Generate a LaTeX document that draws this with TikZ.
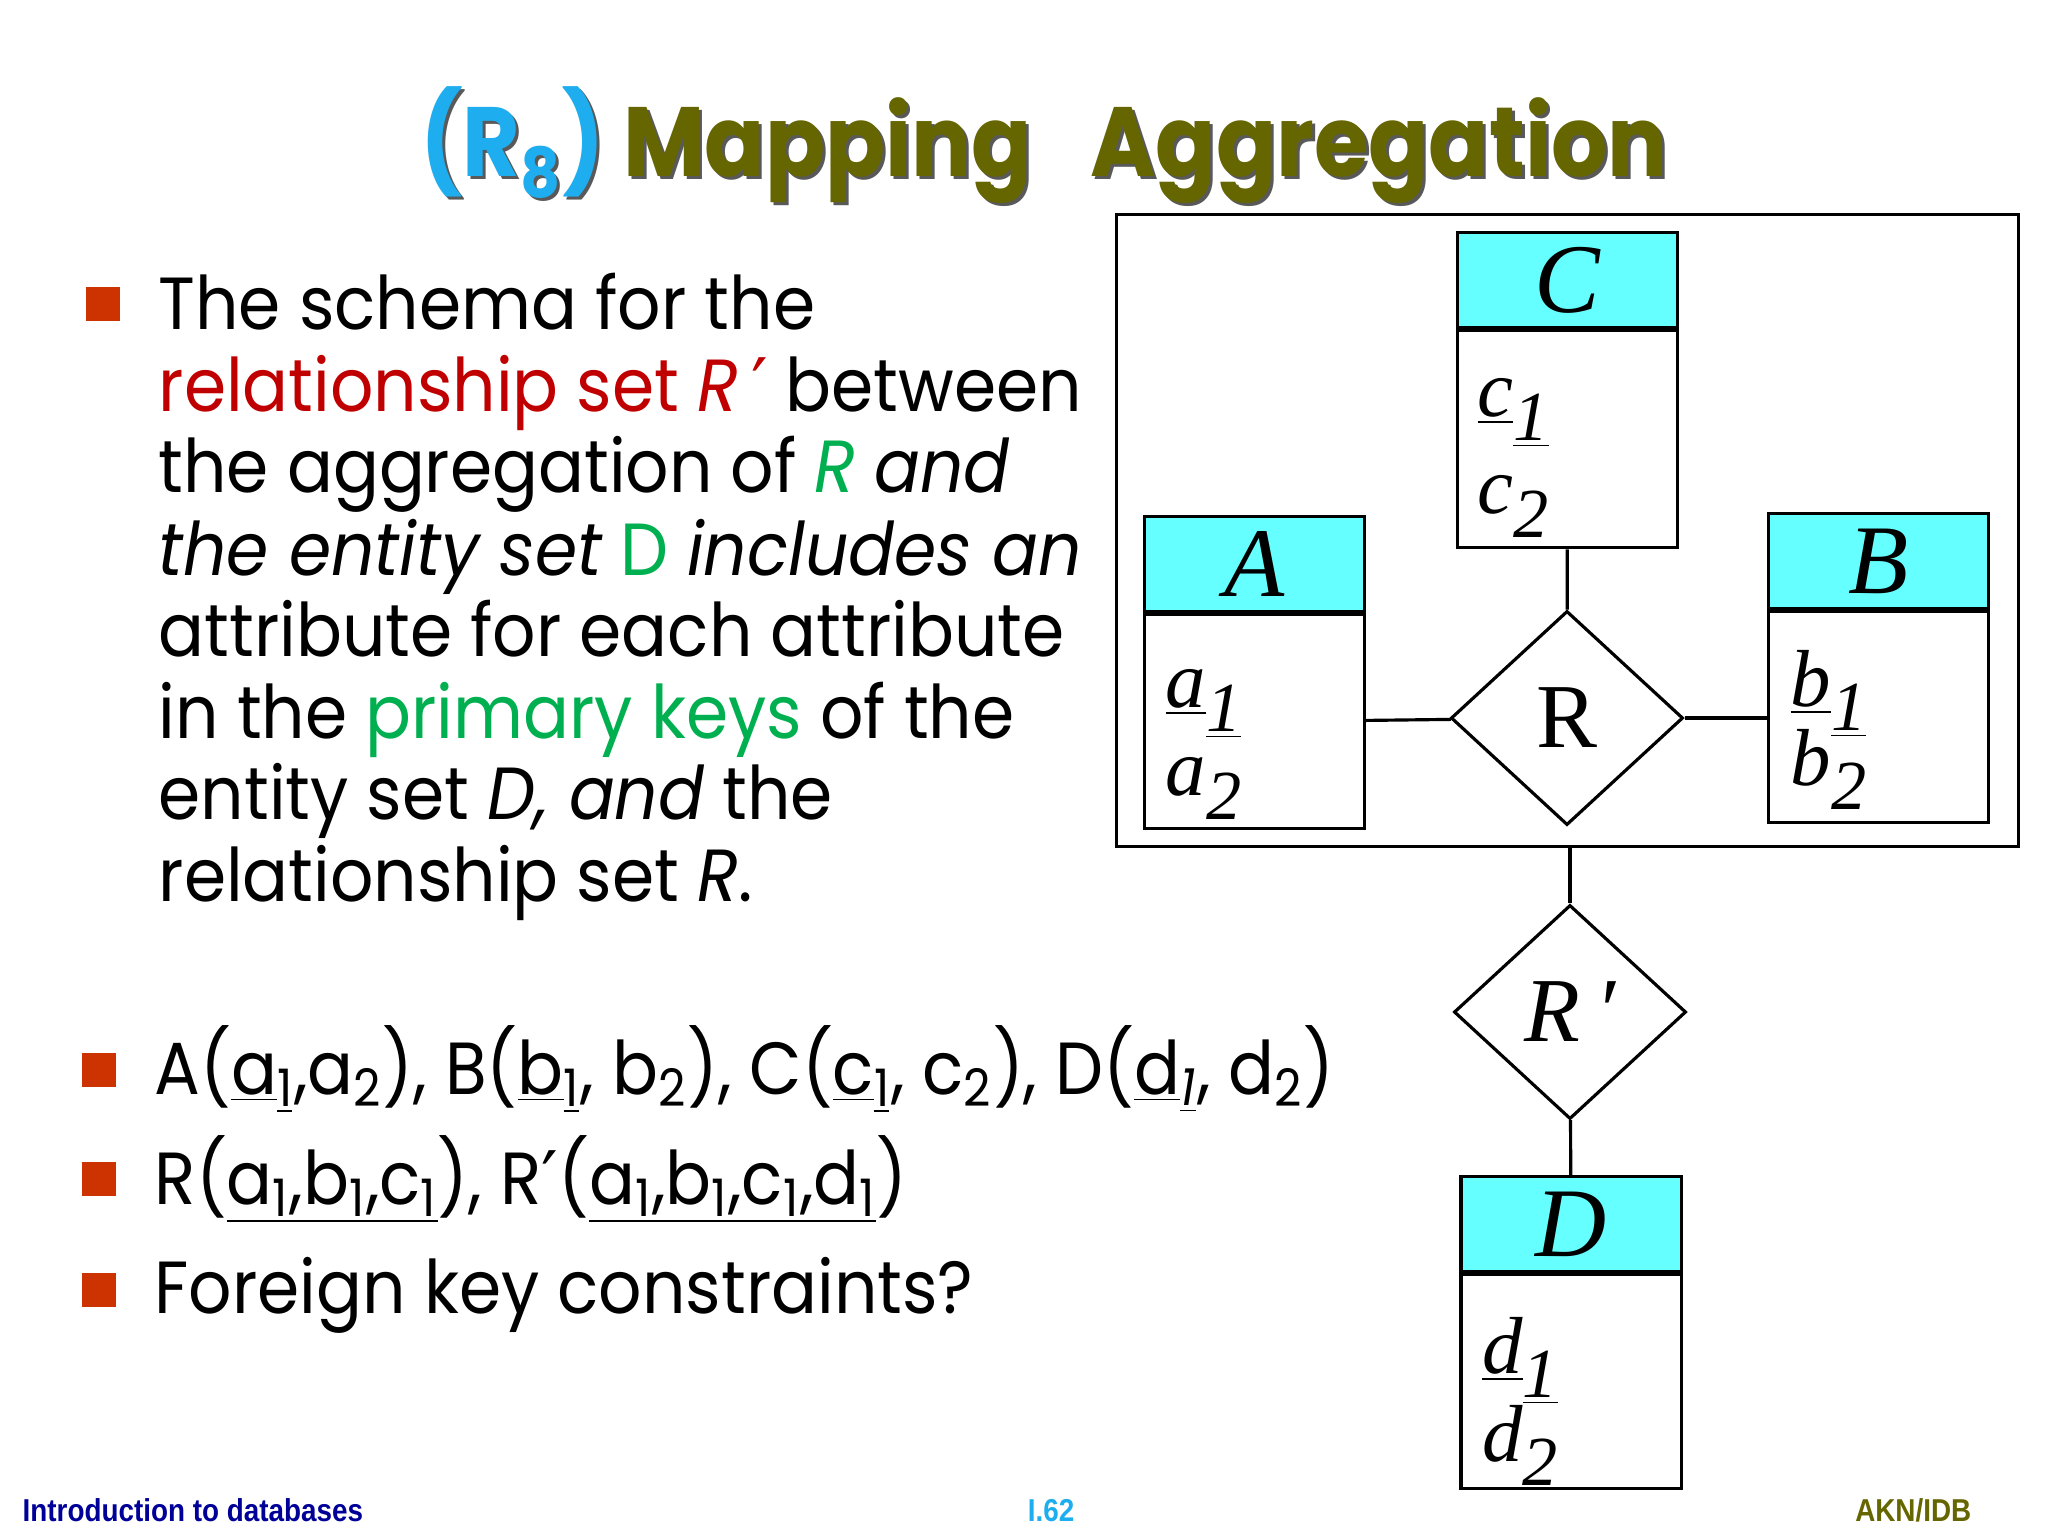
\documentclass[tikz,border=0pt]{standalone}
\usepackage{fontspec}
\setmainfont{Poppins}[FakeStretch=0.92]
\newfontfamily\titlefont{Poppins}[FakeStretch=0.9]
\newfontfamily\erfont{Liberation Serif}
\newfontfamily\symfont{DejaVu Sans}
\newfontfamily\footfont[FakeStretch=0.88]{Liberation Sans}
\usepackage{xcolor}
\usepackage{tikz}
\usetikzlibrary{positioning,shapes.geometric}
\definecolor{titleolive}{HTML}{666600}
\definecolor{titleblue}{HTML}{1EAEEF}
\definecolor{entcyan}{HTML}{66FFFF}
\definecolor{txtred}{HTML}{C00000}
\definecolor{txtgreen}{HTML}{00B050}
\definecolor{bulletred}{HTML}{CC3300}
\definecolor{footblue}{HTML}{000099}
\newcommand{\prm}{{\symfont ′}}
\newcommand{\ersub}[1]{\raisebox{-0.3em}{\fontsize{20}{20}\selectfont #1}}
\tikzset{
ent/.style = {rectangle, draw=black, fill=entcyan, line width=0.9pt, minimum width=2.2cm, minimum height=0.95cm, inner sep=0pt, font=\erfont\itshape\fontsize{28}{28}\selectfont},
ebody/.style = {rectangle, draw=black, line width=0.9pt, minimum width=2.2cm, minimum height=#1, inner sep=0pt},
ebody/.default = 2.14cm, % height of the attribute part
rel/.style = {diamond, draw=black, line width=0.9pt, minimum width=2.32cm, minimum height=2.14cm, inner sep=0pt, font=\erfont\fontsize{26}{26}\selectfont},
attr/.style = {anchor=base west, inner sep=0pt, font=\erfont\itshape\fontsize{23}{23}\selectfont},
conn/.style = {draw=black, line width=0.9pt},
txt/.style = {anchor=base west, inner sep=0pt, font=\fontsize{21}{23}\selectfont},
bullet/.style = {rectangle, fill=bulletred, minimum size=0.34cm, inner sep=0pt},
foot/.style = {anchor=base, inner sep=0pt, font=\footfont\bfseries\fontsize{9}{9}\selectfont},
ttl/.style = {anchor=base, inner sep=0pt, font=\titlefont\bfseries\fontsize{28}{28}\selectfont},
}

\begin{document}
\begin{tikzpicture}[x=0.01cm,y=-0.01cm]
  \useasboundingbox[fill=white] (0,0) rectangle (2048,1536);

  % Title
    \node[ttl, text=black!65] (titleShadow) at (1047,179) {(R\textsubscript{8}) Mapping\hspace{0.6em}Aggregation};
    \node[ttl, text=titleolive] (title) at (1044,176) {{\color{titleblue}(R\textsubscript{8})} Mapping\hspace{0.6em}Aggregation};

  % Text
    \node[bullet] (bulA) at (103,304) {};
    \node[txt] (lineA) at (158,329) {The schema for the};
    \node[txt] (lineB) at (158,411) {{\color{txtred}relationship set \textit{R}\,\prm} between};
    \node[txt] (lineC) at (158,492) {the aggregation of {\color{txtgreen}\textit{R}} \textit{and}};
    \node[txt] (lineD) at (158,575) {\textit{the entity set} {\color{txtgreen}D} \textit{includes an}};
    \node[txt] (lineE) at (158,656) {attribute for each attribute};
    \node[txt] (lineF) at (158,738) {in the {\color{txtgreen}primary keys} of the};
    \node[txt] (lineG) at (158,819) {entity set \textit{D, and} the};
    \node[txt] (lineH) at (158,901) {relationship set \textit{R}.};

    \node[bullet] (bulB) at (99,1070) {};
    \node[txt] (schemaA) at (154,1094) {A(\underline{a}\textsubscript{\underline{1}},a\textsubscript{2}), B(\underline{b}\textsubscript{\underline{1}}, b\textsubscript{2}), C(\underline{c}\textsubscript{\underline{1}}, c\textsubscript{2}), D(\underline{d}\textsubscript{\underline{\textit{1}}}, d\textsubscript{2})};
    \node[bullet] (bulC) at (99,1179) {};
    \node[txt] (schemaB) at (154,1204) {R(\underline{a\textsubscript{1},b\textsubscript{1},c\textsubscript{1}}), R\prm(\underline{a\textsubscript{1},b\textsubscript{1},c\textsubscript{1},d\textsubscript{1}})};
    \node[bullet] (bulD) at (99,1290) {};
    \node[txt] (schemaC) at (154,1313) {Foreign key constraints?};

  % Aggregation
    \node[rectangle, draw=black, line width=0.9pt, minimum width=9.01cm, minimum height=6.31cm, inner sep=0pt] (agg) at (1567.5,530.5) {};

  % Entities
    \node[ent] (A) at (1254.5,564) {A};
    \node[ebody, below=0pt of A] (Abody) {};
    \node[ent] (C) at (1567.5,280) {C};
    \node[ebody=2.17cm, below=0pt of C] (Cbody) {};
    \node[ent] (B) at (1878.5,561) {B};
    \node[ebody=2.11cm, below=0pt of B] (Bbody) {};
    \node[ent] (D) at (1571,1224) {D};
    \node[ebody, below=0pt of D] (Dbody) {};

  % Attributes
    \node[attr] (a1) at ([shift={(22,94)}]A.south west) {\underline{a}\underline{\ersub{1}}};
    \node[attr] (a2) at ([shift={(22,182)}]A.south west) {a\ersub{2}};
    \node[attr] (c1) at ([shift={(21,87)}]C.south west) {\underline{c}\underline{\ersub{1}}};
    \node[attr] (c2) at ([shift={(21,184)}]C.south west) {c\ersub{2}};
    \node[attr] (b1) at ([shift={(23,96)}]B.south west) {\underline{b}\underline{\ersub{1}}};
    \node[attr] (b2) at ([shift={(23,175)}]B.south west) {b\ersub{2}};
    \node[attr] (d1) at ([shift={(22,100)}]D.south west) {\underline{d}\underline{\ersub{1}}};
    \node[attr] (d2) at ([shift={(22,188)}]D.south west) {d\ersub{2}};

  % Relationships
    \node[rel] (R) at (1567,718) {R};
    \node[rel] (Rp) at (1570,1012) {\itshape R\,′};

  % Lines
    \draw[conn] (Cbody) -- (R);
    \draw[conn] (Abody) -- (R);
    \draw[conn] (R.east) -- (R.east -| Bbody.west);
    \draw[conn] (Rp.north |- agg.south) -- (Rp.north);
    \draw[conn] (Rp) -- (D);

  % Footer
    \node[foot, anchor=base west, text=footblue] (footL) at (22,1521) {Introduction to databases};
    \node[foot, text=titleblue] (footM) at (1051,1521) {I.62};
    \node[foot, anchor=base east, text=titleolive] (footR) at (1972,1521) {AKN/IDB};
\end{tikzpicture}
\end{document}
